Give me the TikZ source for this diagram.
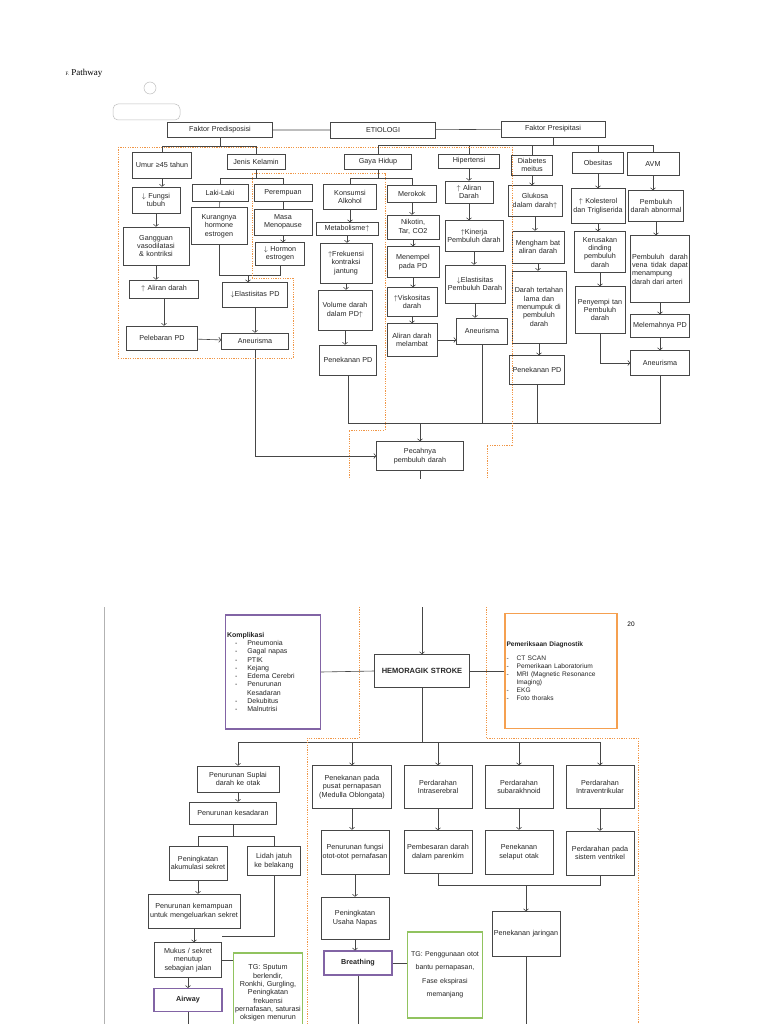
\documentclass[tikz,border=0pt]{standalone}
\usepackage{fontspec}
\setmainfont{Liberation Serif}
\setsansfont{Liberation Sans}
\usetikzlibrary{arrows.meta}
\definecolor{lineg}{RGB}{70,70,70}
\definecolor{dotor}{RGB}{240,150,70}
\definecolor{kompu}{RGB}{130,100,165}
\definecolor{diagor}{RGB}{245,160,80}
\definecolor{tggr}{RGB}{145,195,95}
\tikzset{
  box/.style={draw=lineg, line width=0.7pt, align=center, inner sep=1.5pt, text=black!85,
    font=\sffamily\fontsize{7.2}{8.3}\selectfont},
  w/.code={\pgfmathsetmacro\tw{#1-3}\pgfkeysalso{text width=\tw pt}},
  h/.style={minimum height=#1pt},
  arr/.style={-{To[scale=0.9]}, lineg, line width=0.6pt},
  ln/.style={lineg, line width=0.6pt},
  dots/.style={dotor, line width=0.7pt, dash pattern=on 1.2pt off 1.2pt},
}
\begin{document}
\hyphenpenalty=10000
\exhyphenpenalty=10000
\begin{tikzpicture}[x=1pt, y=-1pt]
\useasboundingbox (0,0) rectangle (768,1024);
\fill[white] (0,0) rectangle (768,1024);
% heading and faint sketch
\node[anchor=west, font=\fontsize{9}{10}\selectfont] (ttl) at (62,73) {{\tiny F.} Pathway};
\draw[black!25, line width=0.5pt] (150,88) circle (6);
\draw[black!25, line width=0.5pt, rounded corners=5pt] (113,104) rectangle (180,120);
% etiologi
\node[box, w=105, h=15] (fpd) at (220,130) {Faktor Predisposisi};
\node[box, w=105, h=16] (eti) at (383,130) {ETIOLOGI};
\node[box, w=104, h=16] (fps) at (553,129) {Faktor Presipitasi};
\draw[ln] (fpd) -- (eti) -- (fps);
% predisposisi
\node[box, w=59, h=26] (umur) at (162,165) {Umur ≥45 tahun};
\node[box, w=58, h=15] (jk) at (256,162) {Jenis Kelamin};
\node[box, w=48, h=26] (fung) at (156,200) {$\downarrow$ Fungsi tubuh};
\node[box, w=66, h=38] (gang) at (156,246) {Gangguan vasodilatasi \& kontriksi};
\node[box, w=69, h=18] (alir) at (164,289) {$\uparrow$ Aliran darah};
\node[box, w=71, h=24] (pleb) at (162,338) {Pelebaran PD};
\node[box, w=56, h=17] (laki) at (220,193) {Laki-Laki};
\node[box, w=56, h=37] (kur) at (219,226) {Kurangnya hormone estrogen};
\node[box, w=58, h=17] (prm) at (283,193) {Perempuan};
\node[box, w=58, h=26] (meno) at (283,222) {Masa Menopause};
\node[box, w=49, h=23] (horm) at (280,254) {$\downarrow$ Hormon estrogen};
\node[box, w=65, h=25] (elas) at (255,295) {$\downarrow$Elastisitas PD};
\node[box, w=67, h=16] (aneL) at (255,341) {Aneurisma};
\draw[ln] (fpd.south) -- ++(0,8) coordinate (b1);
\draw[ln] (umur.north |- b1) -- (jk.north |- b1);
\draw[ln] (umur.north |- b1) -- (umur.north);
\draw[ln] (jk.north |- b1) -- (jk.north);
\draw[arr] (pleb) -- (aneL);
\draw[ln] (jk.south) -- ++(0,8) coordinate (b2);
\draw[ln] (laki.north |- b2) -- (laki.north);
\draw[ln] (laki.north |- b2) -- (prm.north |- b2) -- (prm.north);
\draw[ln] (laki) -- (kur);
\draw[ln] (prm) -- (meno);
\draw[ln] (kur.south) |- (248,275) coordinate (b3);
\draw[ln] (horm.south) |- (b3);
\draw[arr] (b3) -- (b3 |- elas.north);
% presipitasi
\node[box, w=67, h=15] (gh) at (378,162) {Gaya Hidup};
\node[box, w=61, h=14] (hip) at (469,161) {Hipertensi};
\node[box, w=41, h=20] (dm) at (532,165) {Diabetes meitus};
\node[box, w=51, h=21] (obs) at (598,163) {Obesitas};
\node[box, w=52, h=23] (avm) at (653,164) {AVM};
\draw[ln] (fps.south) -- ++(0,8) coordinate (b4);
\draw[ln] (gh.north |- b4) -- (avm.north |- b4);
\foreach \n in {gh,hip,dm,obs,avm} \draw[ln] (\n.north |- b4) -- (\n.north);
\node[box, w=53, h=25] (alk) at (350,197) {Konsumsi Alkohol};
\node[box, w=62, h=13] (meta) at (347,229) {Metabolisme$\uparrow$};
\node[box, w=52, h=40] (frek) at (346,263) {$\uparrow$Frekuensi kontraksi jantung};
\node[box, w=54, h=40] (vol) at (345,310) {Volume darah dalam PD$\uparrow$};
\node[box, w=57, h=30] (pnk1) at (348,360) {Penekanan PD};
\node[box, w=49, h=17] (rok) at (412,194) {Merokok};
\node[box, w=52, h=24] (nik) at (413,227) {Nikotin, Tar, CO2};
\node[box, w=52, h=31] (men) at (413,262) {Menempel pada PD};
\node[box, w=50, h=29] (visk) at (412,302) {$\uparrow$Viskositas darah};
\node[box, w=50, h=33] (lmb) at (412,340) {Aliran darah melambat};
\draw[ln] (gh.south) -- ++(0,8) coordinate (b5);
\draw[ln] (alk.north |- b5) -- (rok.north |- b5);
\draw[ln] (alk.north |- b5) -- (alk.north);
\draw[ln] (rok.north |- b5) -- (rok.north);
\node[box, w=48, h=22] (ald) at (469,192) {$\uparrow$ Aliran Darah};
\node[box, w=58, h=31] (kin) at (474,236) {$\uparrow$Kinerja Pembuluh darah};
\node[box, w=60, h=38] (elp) at (475,284) {$\downarrow$Elastisitas Pembuluh Darah};
\node[box, w=51, h=26] (aneH) at (482,331) {Aneurisma};
\draw[arr] (lmb.east) -- (aneH.west |- lmb.east);
\node[box, w=54, h=31] (glu) at (535,201) {Glukosa dalam darah$\uparrow$};
\node[box, w=52, h=32] (mhb) at (538,247) {Mengham bat aliran darah};
\node[box, w=54, h=72] (drh) at (539,307) {Darah tertahan lama dan menumpuk di pembuluh darah};
\node[box, w=55, h=29] (pnk2) at (537,370) {Penekanan PD};
\node[box, w=54, h=35] (kol) at (598,206) {$\uparrow$ Kolesterol dan Trigliserida};
\node[box, w=51, h=41] (ker) at (600,252) {Kerusakan dinding pembuluh darah};
\node[box, w=50, h=47] (pny) at (600,310) {Penyempi tan Pembuluh darah};
\node[box, w=55, h=31] (pba) at (656,206) {Pembuluh darah abnormal};
\node[box, w=59, h=67, align=justify] (pbv) at (660,269) {Pembuluh darah vena tidak dapat menampung darah dari arteri};
\node[box, w=59, h=23] (mlm) at (660,326) {Melemahnya PD};
\node[box, w=59, h=25] (aneA) at (660,363) {Aneurisma};
\draw[arr] (pny.south) |- (aneA.west);
% straight downward arrows
\foreach \a/\b in {umur/fung, fung/gang, gang/alir, alir/pleb, meno/horm, elas/aneL,
  alk/meta, meta/frek, frek/vol, vol/pnk1, rok/nik, nik/men, men/visk, visk/lmb,
  hip/ald, ald/kin, kin/elp, elp/aneH, dm/glu, glu/mhb, mhb/drh, drh/pnk2,
  obs/kol, kol/ker, ker/pny, avm/pba, pba/pbv, pbv/mlm, mlm/aneA}
  \draw[arr] (\a.south) -- (\a.south |- \b.north);
% pecahnya pembuluh darah
\node[box, w=87, h=29] (pec) at (420,456) {Pecahnya pembuluh darah};
\draw[ln] (pnk1.south) |- (aneA.south |- 0,423) coordinate (b6) -- (aneA.south);
\draw[ln] (aneH.south) -- (aneH.south |- b6);
\draw[ln] (pnk2.south) -- (pnk2.south |- b6);
\draw[arr] (pec.north |- b6) -- (pec.north);
\draw[arr] (aneL.south) |- (pec.west);
\draw[ln] (pec.south) -- ++(0,8) coordinate (e1);
% dotted regions (top)
\draw[dots] (118,147) -- (512,147);
\draw[dots] (118,147) -- (118,358) -- (293,358) -- (293,278) -- (252,278) -- (252,173) -- (385,173) -- (385,430) -- (349,430) -- (349,478);
\draw[dots] (512,147) -- (512,445) -- (487,445) -- (487,478);
% lower page
\draw[black!30, line width=0.6pt] (104,607) -- (104,1024);
\node[font=\sffamily\fontsize{6.5}{7}\selectfont] (pg) at (631,624) {20};
\coordinate (e2) at (422,607);
\node[box, w=95, h=33, font=\sffamily\bfseries\fontsize{7.5}{9}\selectfont] (hs) at (422,671) {HEMORAGIK STROKE};
\node[box, draw=kompu, line width=1.2pt, w=95, h=114, align=left, font=\sffamily\fontsize{7}{8.3}\selectfont] (kom) at (273,672)
  {\textbf{Komplikasi}\\
   \hspace*{8pt}-\hspace{10pt}Pneumonia\\
   \hspace*{8pt}-\hspace{10pt}Gagal napas\\
   \hspace*{8pt}-\hspace{10pt}PTIK\\
   \hspace*{8pt}-\hspace{10pt}Kejang\\
   \hspace*{8pt}-\hspace{10pt}Edema Cerebri\\
   \hspace*{8pt}-\hspace{10pt}Penurunan\\
   \hspace*{20pt}Kesadaran\\
   \hspace*{8pt}-\hspace{10pt}Dekubitus\\
   \hspace*{8pt}-\hspace{10pt}Malnutrisi\\[8pt]};
\node[box, draw=diagor, line width=1.2pt, w=112, h=115, align=left, font=\sffamily\fontsize{6.6}{8}\selectfont] (diag) at (561,671)
  {\textbf{Pemeriksaan Diagnostik}\\[6pt]
   -\hspace{8pt}CT SCAN\\
   -\hspace{8pt}Pemerikaan Laboratorium\\
   -\hspace{8pt}MRI (Magnetic Resonance\\
   \hspace*{10pt}Imaging)\\
   -\hspace{8pt}EKG\\
   -\hspace{8pt}Foto thoraks\\[24pt]};
\draw[arr] (e2) -- (hs.north);
\draw[ln] (hs.west) -- (kom.east);
\draw[ln] (hs.east) -- (diag.west);
% lower branches
\node[box, w=82, h=26] (psd) at (238,779) {Penurunan Suplai darah ke otak};
\node[box, w=87, h=22] (pkd) at (233,813) {Penurunan kesadaran};
\node[box, w=58, h=34] (pak) at (198,863) {Peningkatan akumulasi sekret};
\node[box, w=53, h=29] (lid) at (274,861) {Lidah jatuh ke belakang};
\node[box, w=92, h=34] (pkm) at (194,911) {Penurunan kemampuan untuk mengeluarkan sekret};
\node[box, w=67, h=35] (muk) at (188,960) {Mukus / sekret menutup sebagian jalan};
\node[box, draw=kompu, line width=1.2pt, w=68, h=23, font=\sffamily\bfseries\fontsize{7.2}{8.3}\selectfont] (air) at (188,1000) {Airway};
\node[box, draw=tggr, line width=1.2pt, w=69, h=80] (tg1) at (268,993) {TG: Sputum berlendir, Ronkhi, Gurgling, Peningkatan frekuensi pernafasan, saturasi oksigen menurun};
\node[box, w=79, h=43] (ppp) at (352,787) {Penekanan pada pusat pernapasan (Medulla Oblongata)};
\node[box, w=68, h=44] (pfo) at (355,852) {Penurunan fungsi otot-otot pernafasan};
\node[box, w=68, h=42] (pun) at (355,918) {Peningkatan Usaha Napas};
\node[box, draw=kompu, line width=1.2pt, w=68, h=24, font=\sffamily\bfseries\fontsize{7.2}{8.3}\selectfont] (brt) at (358,963) {Breathing};
\node[box, draw=tggr, line width=1.2pt, w=75, h=86, font=\sffamily\fontsize{7}{13.5}\selectfont] (tg2) at (445,975) {TG: Penggunaan otot bantu pernapasan, Fase ekspirasi memanjang};
\node[box, w=68, h=43] (pis) at (438,787) {Perdarahan Intraserebral};
\node[box, w=68, h=43] (psa) at (519,787) {Perdarahan subarakhnoid};
\node[box, w=68, h=43] (piv) at (600,787) {Perdarahan Intraventrikular};
\node[box, w=68, h=43] (pbd) at (438,852) {Pembesaran darah dalam parenkim};
\node[box, w=68, h=44] (pso) at (519,852) {Penekanan selaput otak};
\node[box, w=68, h=44] (psv) at (600,853) {Perdarahan pada sistem ventrikel};
\node[box, w=68, h=45] (pjr) at (526,934) {Penekanan jaringan};
\draw[ln] (hs.south) -- (hs.south |- 0,742) coordinate (b7);
\draw[ln] (psd.north |- b7) -- (piv.north |- b7);
\foreach \n in {psd,ppp,pis,psa,piv} \draw[arr] (\n.north |- b7) -- (\n.north);
\draw[ln] (pkd.south) -- ++(0,12) coordinate (b8);
\draw[ln] (pak.north |- b8) -- (lid.north |- b8);
\draw[ln] (pak.north |- b8) -- (pak.north);
\draw[ln] (lid.north |- b8) -- (lid.north);
\foreach \a/\b in {psd/pkd, pak/pkm, pkm/muk, muk/air, ppp/pfo, pfo/pun, pun/brt,
  pis/pbd, psa/pso, piv/psv}
  \draw[arr] (\a.south) -- (\a.south |- \b.north);
\draw[ln] (lid.south) |- ([yshift=6pt]muk.north east);
\draw[ln] (muk.east) -- (tg1.west |- muk.east);
\draw[ln] (air.south) -- ++(0,20) coordinate (e3);
\draw[ln] (brt.east) -- (tg2.west |- brt.east);
\draw[ln] (brt.south) -- ++(0,55) coordinate (e4);
\draw[ln] (pbd.south) |- (psv.south |- 0,885) coordinate (b9) -- (psv.south);
\draw[arr] (pjr.north |- b9) -- (pjr.north);
\draw[ln] (pjr.south) -- ++(0,70) coordinate (e5);
% dotted regions (bottom)
\draw[dots] (359,607) -- (359,738) -- (307,738) -- (307,1024);
\draw[dots] (486,607) -- (486,738) -- (638,738) -- (638,1024);
\end{tikzpicture}
\end{document}
